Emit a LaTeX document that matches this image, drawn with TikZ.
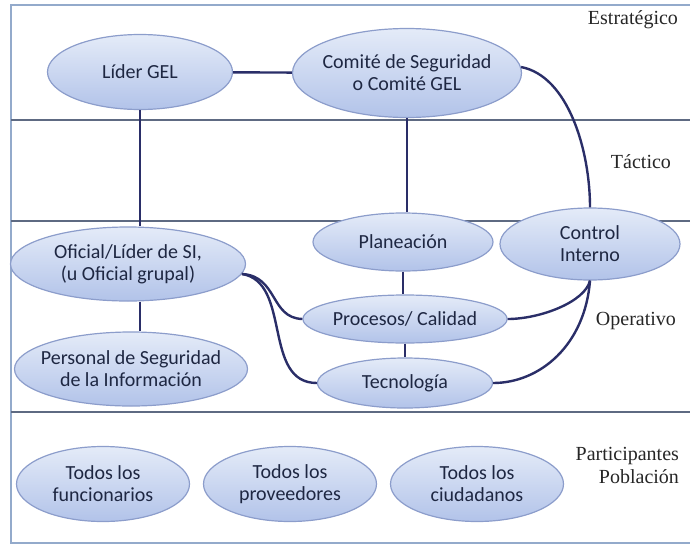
\documentclass[tikz,border=0pt]{standalone}
\usepackage{fontspec}
\setmainfont{Liberation Serif}
\newfontfamily\ovalfont{Carlito}
\usetikzlibrary{shapes.geometric}
\definecolor{frameblue}{HTML}{93AACB}
\definecolor{layerline}{HTML}{5E6A82}
\definecolor{linknavy}{HTML}{2A2E68}
\definecolor{ovaltop}{HTML}{E4EBF8}
\definecolor{ovalbot}{HTML}{B2C3E9}
\definecolor{ovaledge}{HTML}{8C9DCB}
\definecolor{ovaltext}{HTML}{1E2742}
\tikzset{
  oval/.style={ellipse, draw=ovaledge, line width=0.6pt, top color=ovaltop, bottom color=ovalbot, text=ovaltext, align=center, font=\ovalfont\fontsize{10}{11}\selectfont, inner sep=0pt},
  layer/.style={draw=layerline, line width=0.8pt},
  level/.style={anchor=east, align=right, font=\fontsize{10}{11.5}\selectfont, text=black!85},
  link/.style={draw=linknavy, line width=1.2pt},
}
\begin{document}
\begin{tikzpicture}[x=0.5pt, y=-0.5pt]
  \useasboundingbox (0,0) rectangle (690,546);
  \draw[draw=frameblue, line width=1.2pt] (11,5) rectangle (693,543);
  \draw[layer] (11,120) -- (690,120);
  \draw[layer] (11,221) -- (690,221);
  \draw[layer] (11,412) -- (690,412);

  \node[level] (estr) at (685,20) {Estratégico};
  \node[level] (tact) at (678,162) {Táctico};
  \node[level] (oper) at (683,321) {Operativo};
  \node[level] (part) at (686,465) {Participantes\\Población};

  \node[oval, minimum width=92.5pt, minimum height=37.5pt] (lider) at (140,72) {Líder GEL};
  \node[oval, inner xsep=-4pt, minimum width=114.5pt, minimum height=44.5pt] (comite) at (407,73) {Comité de Seguridad\\o Comité GEL};
  \node[oval, minimum width=90pt, minimum height=29pt] (plan) at (403,242) {Planeación};
  \node[oval, minimum width=90pt, minimum height=36pt] (control) at (590,244) {Control\\Interno};
  \node[oval, minimum width=117.5pt, minimum height=37pt] (oficial) at (128,264) {Oficial/Líder de SI,\\(u Oficial grupal)};
  \node[oval, minimum width=87.5pt, minimum height=24pt] (procesos) at (405,319) {Procesos/ Calidad};
  \node[oval, minimum width=87.5pt, minimum height=25pt] (tecno) at (405,383) {Tecnología};
  \node[oval, inner xsep=-7pt, minimum width=116.5pt, minimum height=37pt] (personal) at (131,369) {Personal de Seguridad\\de la Información};
  \node[oval, minimum width=86.5pt, minimum height=37.5pt] (funcio) at (103,484) {Todos los\\funcionarios};
  \node[oval, minimum width=86.5pt, minimum height=37.5pt] (provee) at (290,484) {Todos los\\proveedores};
  \node[oval, minimum width=86.5pt, minimum height=37.5pt] (ciudad) at (477,484) {Todos los\\ciudadanos};

  \draw[link] (lider) -- (comite);
  \draw[link] (lider.south) -- (lider.south |- oficial.north);
  \draw[link] (oficial.south -| lider.south) -- (lider.south |- personal.north);
  \draw[link] (comite.south) -- (comite.south |- plan.north);
  \draw[link] (plan.south) -- (plan.south |- procesos.north);
  \draw[link] (procesos.south) -- (tecno.north);
  \draw[link] (comite.3) .. controls (568,76) and (590,150) .. (control.north);
  \draw[link] (oficial.-5) .. controls (278,276) and (270,318) .. (procesos.west);
  \draw[link] (oficial.-5) .. controls (292,282) and (262,383) .. (tecno.west);
  \draw[link] (control.south) .. controls (585,302) and (540,319) .. (procesos.east);
  \draw[link] (control.south) .. controls (585,345) and (540,383) .. (tecno.east);
\end{tikzpicture}
\end{document}
